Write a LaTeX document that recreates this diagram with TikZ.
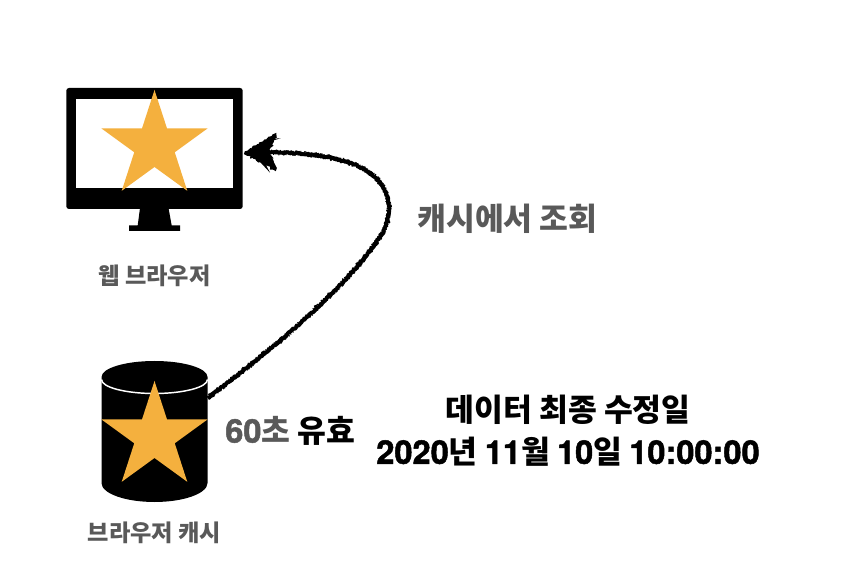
\documentclass[tikz,border=0pt]{standalone}
\usepackage{fontspec}
\setmainfont{Noto Sans CJK KR}
\newfontfamily\latfont[Scale=1.04,BoldFeatures={FakeBold=1.5}]{TeX Gyre Heros}
\usetikzlibrary{shapes.geometric,decorations.pathmorphing}
\definecolor{StarGold}{HTML}{F4B03E}
\definecolor{LabelGray}{HTML}{595959}
\newcommand{\lat}[1]{{\latfont\bfseries #1}}
\newcommand{\lookuppath}{(from) .. controls (270,350) and (340,295) .. (380,237) .. controls (395,215) and (395,178) .. (350,163) .. controls (320,153) and (295,153) .. (notch)}
\tikzset{
  goldstar/.style={star,star points=5,star point ratio=2.618,fill=StarGold,inner sep=0pt,outer sep=0pt,minimum size=83.6pt},
  caption/.style={text=LabelGray,font=\bfseries\fontsize{17.4}{20}\selectfont,inner sep=0pt},
  bigtext/.style={font=\bfseries\fontsize{23.5}{28}\selectfont,inner sep=0pt},
  chalk/.style={decorate,decoration={random steps,segment length=1.1pt,amplitude=.5pt}}
}
\begin{document}
\begin{tikzpicture}[x=.75pt,y=-.75pt,line cap=butt]
\useasboundingbox (0,0) rectangle (860,584);
\pgfmathsetseed{42}
% monitor
\fill[black,rounded corners=2pt] (66.3,88) rectangle (242.7,209);
\fill[white] (76,99.5) rectangle (232.7,188.5);
\fill[black] (140,208)--(168.5,208)--(171.7,225.5)--(180,225.5)--(180,231)--(129,231)--(129,225.5)--(137.7,225.5)--cycle;
\node[goldstar] (webstar) at (154.5,145.7) {};
\node[caption] (weblabel) at (154.5,276) {웹 브라우저};
% cache
\fill[black] (101.5,377) arc[start angle=180,end angle=360,x radius=53,y radius=16]
  --(207.5,483) arc[start angle=0,end angle=180,x radius=53,y radius=19]--cycle;
\draw[white,line width=1.1pt] (101.5,379.5) arc[start angle=180,end angle=0,x radius=53,y radius=14];
\node[goldstar] (cachestar) at (154.5,436.7) {};
\node[caption] (cachelabel) at (154.5,533) {브라우저 캐시};
% arrow
\coordinate (from) at (208,398);
\coordinate (tip) at (246,152.5);
\coordinate (barbup) at (275,135);
\coordinate (barbdown) at (275,169);
\coordinate (notch) at (267,152);
\draw[chalk,line width=2.9pt] \lookuppath;
\draw[chalk,line width=3.6pt,dash pattern=on .8pt off 1.2pt] \lookuppath;
\draw[chalk,decoration={amplitude=.8pt},fill=black,line width=2.2pt] (tip)--(barbup)--(notch)--(barbdown)--cycle;
% labels
\node[bigtext,text=LabelGray] (lookup) at (507.5,219) {캐시에서 조회};
\node[bigtext,anchor=west] (valid) at (225,431) {\textcolor{LabelGray}{\lat{60}초} 유효};
\node[bigtext,text=black] (modified) at (568,410) {데이터 최종 수정일};
\node[bigtext,text=black] (modtime) at (568,452) {\lat{2020}년 \lat{11}월 \lat{10}일 \lat{10:00:00}};
\end{tikzpicture}
\end{document}
